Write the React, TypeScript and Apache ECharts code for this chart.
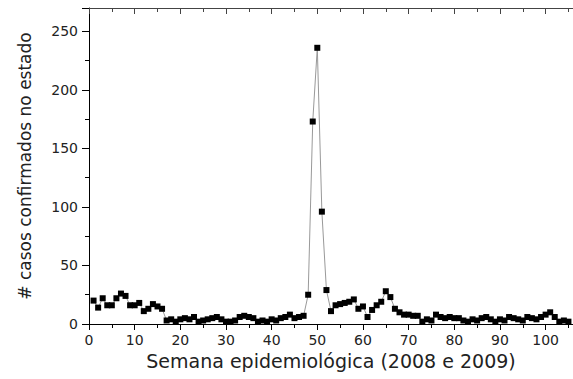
import React, { useEffect, useRef } from "react";
import * as echarts from "echarts";

const weeks: number[] = [];
for (let i = 1; i <= 105; i++) weeks.push(i);

const cases: number[] = [
  // w1-w16
  20, 14, 22, 16, 16, 22, 26, 24, 16, 16, 18, 11, 13, 17, 15, 13,
  // w17-w47
  3, 4, 2, 4, 5, 4, 6, 2, 3, 4, 5, 6, 4, 2, 2, 3, 6, 7, 6, 5, 2, 3, 2, 4, 3, 5, 6, 8, 5, 6, 7,
  // w48-w53
  25, 173, 236, 96, 29, 11,
  // w54-w72
  16, 17, 18, 19, 21, 13, 15, 6, 12, 16, 19, 28, 23, 13, 10, 8, 8, 7, 7,
  // w73-w105
  2, 4, 3, 8, 6, 5, 6, 5, 5, 3, 2, 4, 3, 5, 6, 4, 2, 4, 3, 6, 5, 4, 3, 6, 5, 4, 6, 8, 10, 6, 2, 3, 2,
];

const xName = "Semana epidemiológica (2008 e 2009)";
const yName = "# casos confirmados no estado";
const FONT = "DejaVu Sans, Liberation Sans, Arial, sans-serif";

export default function App() {
  const ref = useRef<HTMLDivElement>(null);
  useEffect(() => {
    document.body.style.margin = "0";
    const chart = echarts.init(ref.current!, null, { renderer: "svg" });
    const data = weeks.map((w, i) => [w, cases[i]]);
    chart.setOption({
      animation: false,
      backgroundColor: "#ffffff",
      grid: { left: 89, top: 8, width: 484, height: 316, containLabel: false },
      xAxis: [
        {
          type: "value",
          min: 0,
          max: 106,
          interval: 10,
          position: "bottom",
          name: xName,
          nameLocation: "middle",
          nameGap: 25,
          nameTextStyle: { fontFamily: FONT, fontSize: 19, color: "#222" },
          axisLine: { show: true, onZero: false, lineStyle: { color: "#000", width: 1 } },
          axisTick: { show: true, inside: false, length: 6, lineStyle: { color: "#000" } },
          minorTick: { show: true, splitNumber: 2, length: 4, lineStyle: { color: "#000" } },
          axisLabel: { fontFamily: FONT, fontSize: 14, color: "#222", margin: 9, showMaxLabel: false },
          splitLine: { show: false },
        },
        {
          type: "value",
          min: 0,
          max: 106,
          interval: 10,
          position: "top",
          axisLine: { show: true, onZero: false, lineStyle: { color: "#444", width: 1 } },
          axisTick: { show: true, inside: true, length: 6, lineStyle: { color: "#444" } },
          minorTick: { show: true, splitNumber: 2, length: 4, lineStyle: { color: "#444" } },
          axisLabel: { show: false },
          splitLine: { show: false },
        },
      ],
      yAxis: [
        {
          type: "value",
          min: 0,
          max: 270,
          interval: 50,
          name: yName,
          nameLocation: "middle",
          nameGap: 56,
          nameRotate: 90,
          nameTextStyle: { fontFamily: FONT, fontSize: 17, color: "#222" },
          axisLine: { show: true, onZero: false, lineStyle: { color: "#000", width: 1 } },
          axisTick: { show: true, inside: false, length: 7, lineStyle: { color: "#000" } },
          minorTick: { show: true, splitNumber: 2, length: 4, lineStyle: { color: "#000" } },
          axisLabel: { fontFamily: FONT, fontSize: 14, color: "#222", margin: 11, showMaxLabel: false },
          splitLine: { show: false },
        },
      ],
      series: [
        {
          type: "line",
          data,
          symbol: "rect",
          symbolSize: 6,
          itemStyle: { color: "#000" },
          lineStyle: { color: "#999", width: 1 },
          clip: false,
          z: 3,
        },
      ],
    });
    return () => chart.dispose();
  }, []);
  return <div ref={ref} style={{ width: 573, height: 379 }} />;
}
